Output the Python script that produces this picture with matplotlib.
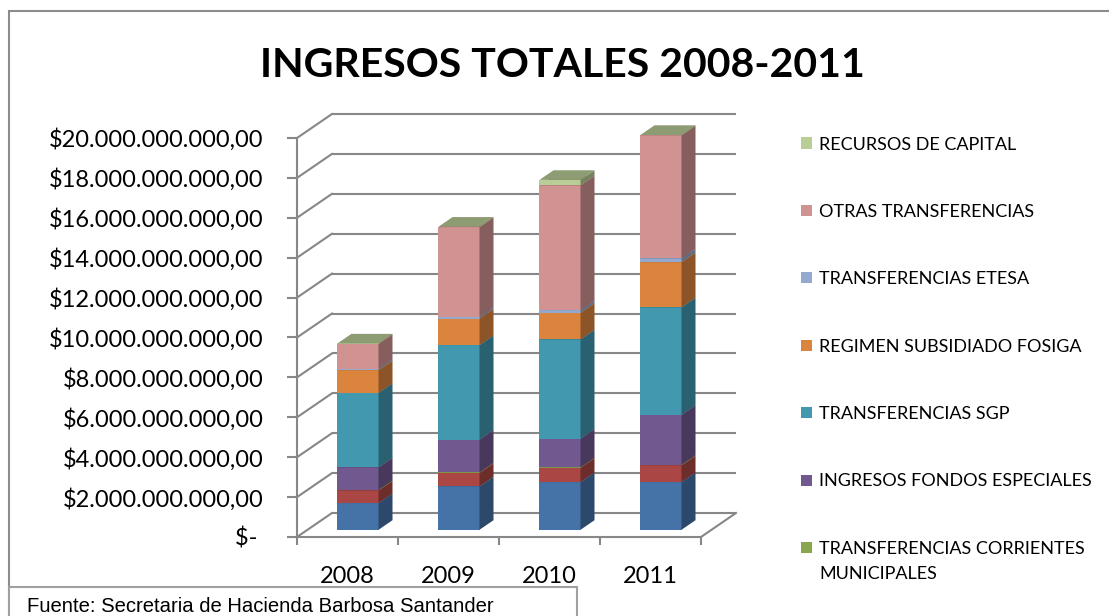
import matplotlib.pyplot as plt
import numpy as np
from matplotlib.patches import Polygon, Rectangle
from matplotlib.ticker import FuncFormatter

# Data (pesos)
years = ["2008", "2009", "2010", "2011"]
ingresos_a = [1.34e9, 2.18e9, 2.39e9, 2.39e9]  # bottom series (not in visible legend)
ingresos_b = [0.63e9, 0.67e9, 0.72e9, 0.84e9]  # second series (not in visible legend)
corrientes_municipales = [0.03e9, 0.03e9, 0.02e9, 0.03e9]
fondos_especiales = [1.13e9, 1.64e9, 1.44e9, 2.50e9]
sgp = [3.73e9, 4.74e9, 4.97e9, 5.39e9]
fosiga = [1.14e9, 1.33e9, 1.34e9, 2.26e9]
etesa = [0.07e9, 0.08e9, 0.13e9, 0.19e9]
otras = [1.25e9, 4.50e9, 6.25e9, 6.17e9]
capital = [0.02e9, 0.02e9, 0.28e9, 0.02e9]

series = [
    (None, ingresos_a, "#4572a7"),
    (None, ingresos_b, "#aa4643"),
    ("TRANSFERENCIAS CORRIENTES\nMUNICIPALES", corrientes_municipales, "#89a54e"),
    ("INGRESOS FONDOS ESPECIALES", fondos_especiales, "#71588f"),
    ("TRANSFERENCIAS SGP", sgp, "#4198af"),
    ("REGIMEN SUBSIDIADO FOSIGA", fosiga, "#db843d"),
    ("TRANSFERENCIAS ETESA", etesa, "#93a9cf"),
    ("OTRAS TRANSFERENCIAS", otras, "#d19392"),
    ("RECURSOS DE CAPITAL", capital, "#b9cd96"),
]
yticks = np.arange(0, 20e9 + 1, 2e9)

W, H = 1109, 616
FONT = "Lato"
GRID = "#878787"

# oblique "3D" depth offsets (x in category units, y in pesos)
DX = 0.3465
DY = 1.203e9
F0, F1 = 0.3, 0.7  # bar front/back depth fraction
BW = 0.406


def shade(c, k):
    r, g, b = plt.matplotlib.colors.to_rgb(c)
    return (r * k, g * k, b * k)


fig = plt.figure(figsize=(W / 100, H / 100), dpi=100)
ax = fig.add_axes([297 / W, (H - 537) / H, (736 - 297) / W, (537 - 114) / H])
ax.set_xlim(-0.5, 3.5 + DX)
ax.set_ylim(0, 20e9 + DY)
ax.patch.set_visible(False)

# back wall gridlines and left wall diagonals
ax.hlines(yticks + DY, -0.5 + DX, 3.5 + DX, color=GRID, lw=1.5, clip_on=False, zorder=0)
for t in yticks:
    ax.plot([-0.5, -0.5 + DX], [t, t + DY], color=GRID, lw=1.5, clip_on=False, zorder=0)
ax.plot([3.5, 3.5 + DX], [0, DY], color=GRID, lw=1.5, clip_on=False, zorder=0)

# stacked bars with side and top faces
x = np.arange(len(years))
bottom = np.zeros(len(years))
z = 2
for name, vals, col in series:
    vals = np.array(vals)
    bars = ax.bar(x + F0 * DX, vals, BW, bottom=bottom + F0 * DY, color=col,
                  linewidth=0, zorder=z)
    for rect in bars:
        x0, y0 = rect.get_x(), rect.get_y()
        x1, y1 = x0 + rect.get_width(), y0 + rect.get_height()
        ddx, ddy = (F1 - F0) * DX, (F1 - F0) * DY
        ax.add_patch(Polygon([(x1, y0), (x1 + ddx, y0 + ddy), (x1 + ddx, y1 + ddy), (x1, y1)],
                             closed=True, facecolor=shade(col, 0.64), lw=0, zorder=z))
        ax.add_patch(Polygon([(x0, y1), (x1, y1), (x1 + ddx, y1 + ddy), (x0 + ddx, y1 + ddy)],
                             closed=True, facecolor=shade(col, 0.76), lw=0, zorder=z))
    bottom = bottom + vals
    z += 1

# front axes
for s in ["top", "right"]:
    ax.spines[s].set_visible(False)
for s in ["left", "bottom"]:
    ax.spines[s].set_color(GRID)
    ax.spines[s].set_linewidth(1.5)
ax.spines["left"].set_bounds(0, 20e9)
ax.spines["bottom"].set_bounds(-0.5, 3.5)


def peso(v, pos):
    if v == 0:
        return "$- "
    s = f"{v:,.2f}".replace(",", "X").replace(".", ",").replace("X", ".")
    return "$" + s


ax.set_yticks(yticks)
ax.yaxis.set_major_formatter(FuncFormatter(peso))
ax.tick_params(axis="y", length=7, width=1.5, color=GRID, pad=17, labelsize=17)
ax.set_xticks(np.arange(-0.5, 3.6, 1.0))
ax.set_xticklabels([])
ax.set_xticks(x, minor=True)
ax.set_xticklabels(years, minor=True)
ax.tick_params(axis="x", which="major", length=6, width=1.5, color=GRID)
ax.tick_params(axis="x", which="minor", length=0, pad=21, labelsize=17)
for lab in ax.get_yticklabels() + ax.get_xticklabels(minor=True):
    lab.set_fontfamily(FONT)

# title
fig.text(562 / W, 1 - 77 / H, "INGRESOS TOTALES 2008-2011", ha="center", va="baseline",
         fontsize=29.5, fontweight="bold", family=FONT)

# legend
legend_items = [s for s in series if s[0] is not None][::-1]
for k, (name, vals, col) in enumerate(legend_items):
    yc = 143 + 67.4 * k
    fig.patches.append(Rectangle((801 / W, 1 - (yc + 5.5) / H), 11 / W, 11 / H,
                                 transform=fig.transFigure, facecolor=col, lw=0))
    for j, line in enumerate(name.split("\n")):
        fig.text(819 / W, 1 - (yc + 6.5 + 25 * j) / H, line, ha="left", va="baseline",
                 fontsize=13, family=FONT)

# chart border and footer box
fig.patches.append(Rectangle((9 / W, -0.1), 1.2, 1 - 11 / H + 0.1, transform=fig.transFigure,
                             fill=False, edgecolor="#8c8c8c", lw=1.5))
fig.patches.append(Rectangle((9 / W, -0.1), (577 - 9) / W, (H - 587) / H + 0.1,
                             transform=fig.transFigure, facecolor="white",
                             edgecolor="#a0a0a0", lw=1.5, zorder=5))
fig.text(27 / W, 1 - 612 / H, "Fuente: Secretaria de Hacienda Barbosa Santander",
         ha="left", va="baseline", fontsize=14.6, family="Liberation Sans", zorder=6)

fig.savefig("out.png", dpi=100)
